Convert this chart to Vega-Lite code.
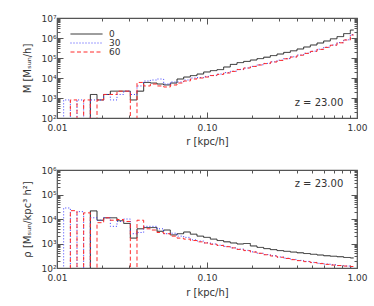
{
  "$schema": "https://vega.github.io/schema/vega-lite/v6.json",
  "padding": {"left": 21, "top": 13, "right": 5, "bottom": 5},
  "background": "white",
  "spacing": 18,
  "config": {
    "font": "DejaVu Sans",
    "view": {"stroke": "#555", "strokeWidth": 1.2},
    "axis": {"grid": false, "domain": false, "labelFont": "DejaVu Sans", "labelFontSize": 9, "labelColor": "#333", "titleFont": "DejaVu Sans", "titleFontSize": 10, "titleFontWeight": "normal", "titleColor": "#333", "tickColor": "#555", "labelFlush": false, "labelOverlap": false}
  },
  "datasets": {
    "d": [
      {"s":"0","r":0.01052,"M":1,"rho":1},{"s":"0","r":0.01166,"M":1,"rho":1},{"s":"0","r":0.01292,"M":1,"rho":1},{"s":"0","r":0.0143,"M":1,"rho":1},{"s":"0","r":0.01585,"M":1,"rho":1},
      {"s":"0","r":0.01756,"M":1500,"rho":21400},{"s":"0","r":0.01945,"M":800,"rho":8910},{"s":"0","r":0.02154,"M":1500,"rho":11200},{"s":"0","r":0.02387,"M":2200,"rho":11200},{"s":"0","r":0.02643,"M":2200,"rho":8510},
      {"s":"0","r":0.02929,"M":2200,"rho":6610},{"s":"0","r":0.03244,"M":800,"rho":1660},{"s":"0","r":0.03594,"M":2200,"rho":3980},{"s":"0","r":0.03981,"M":6000,"rho":4470},{"s":"0","r":0.0441,"M":5600,"rho":4470},
      {"s":"0","r":0.04885,"M":5000,"rho":3160},{"s":"0","r":0.05412,"M":4500,"rho":3550},{"s":"0","r":0.05995,"M":5600,"rho":2240},{"s":"0","r":0.06641,"M":8900,"rho":2510},{"s":"0","r":0.07356,"M":11200,"rho":2950},
      {"s":"0","r":0.08149,"M":13200,"rho":2400},{"s":"0","r":0.09027,"M":15800,"rho":2000},{"s":"0","r":0.1,"M":20000,"rho":1780},{"s":"0","r":0.1108,"M":23400,"rho":1510},{"s":"0","r":0.1227,"M":26300,"rho":1320},
      {"s":"0","r":0.1359,"M":35500,"rho":1170},{"s":"0","r":0.1506,"M":47900,"rho":1050},{"s":"0","r":0.1668,"M":58900,"rho":955},{"s":"0","r":0.1848,"M":67600,"rho":1000},{"s":"0","r":0.2047,"M":79400,"rho":794},
      {"s":"0","r":0.2268,"M":93300,"rho":692},{"s":"0","r":0.2512,"M":110000,"rho":617},{"s":"0","r":0.2783,"M":132000,"rho":562},{"s":"0","r":0.3083,"M":158000,"rho":513},{"s":"0","r":0.3415,"M":191000,"rho":479},
      {"s":"0","r":0.3783,"M":229000,"rho":447},{"s":"0","r":0.419,"M":282000,"rho":417},{"s":"0","r":0.4642,"M":355000,"rho":389},{"s":"0","r":0.5142,"M":447000,"rho":363},{"s":"0","r":0.5696,"M":562000,"rho":339},
      {"s":"0","r":0.631,"M":708000,"rho":316},{"s":"0","r":0.699,"M":912000,"rho":302},{"s":"0","r":0.7743,"M":1175000,"rho":288},{"s":"0","r":0.8577,"M":1660000,"rho":269},{"s":"0","r":0.9502,"M":2500000,"rho":257},

      {"s":"30","r":0.01052,"M":1,"rho":1},{"s":"30","r":0.01166,"M":800,"rho":28200},{"s":"30","r":0.01292,"M":1,"rho":1},{"s":"30","r":0.0143,"M":800,"rho":20000},{"s":"30","r":0.01585,"M":1,"rho":1},
      {"s":"30","r":0.01756,"M":800,"rho":11200},{"s":"30","r":0.01945,"M":800,"rho":8910},{"s":"30","r":0.02154,"M":1500,"rho":11200},{"s":"30","r":0.02387,"M":800,"rho":5010},{"s":"30","r":0.02643,"M":1500,"rho":7940},
      {"s":"30","r":0.02929,"M":2200,"rho":10000},{"s":"30","r":0.03244,"M":1500,"rho":2510},{"s":"30","r":0.03594,"M":4000,"rho":2820},{"s":"30","r":0.03981,"M":7080,"rho":5010},{"s":"30","r":0.0441,"M":7940,"rho":5010},
      {"s":"30","r":0.04885,"M":8910,"rho":3980},{"s":"30","r":0.05412,"M":5010,"rho":2510},{"s":"30","r":0.05995,"M":6310,"rho":2630},{"s":"30","r":0.06641,"M":6310,"rho":2000},{"s":"30","r":0.07356,"M":7940,"rho":1780},
      {"s":"30","r":0.08149,"M":10000,"rho":1410},{"s":"30","r":0.09027,"M":10500,"rho":1260},{"s":"30","r":0.1,"M":12000,"rho":1070},{"s":"30","r":0.1108,"M":13500,"rho":955},{"s":"30","r":0.1227,"M":15800,"rho":851},
      {"s":"30","r":0.1359,"M":18600,"rho":759},{"s":"30","r":0.1506,"M":21900,"rho":661},{"s":"30","r":0.1668,"M":26900,"rho":589},{"s":"30","r":0.1848,"M":31600,"rho":525},{"s":"30","r":0.2047,"M":38000,"rho":457},
      {"s":"30","r":0.2268,"M":45700,"rho":398},{"s":"30","r":0.2512,"M":53700,"rho":355},{"s":"30","r":0.2783,"M":64600,"rho":316},{"s":"30","r":0.3083,"M":77600,"rho":282},{"s":"30","r":0.3415,"M":93300,"rho":251},
      {"s":"30","r":0.3783,"M":115000,"rho":224},{"s":"30","r":0.419,"M":141000,"rho":204},{"s":"30","r":0.4642,"M":174000,"rho":186},{"s":"30","r":0.5142,"M":219000,"rho":170},{"s":"30","r":0.5696,"M":275000,"rho":155},
      {"s":"30","r":0.631,"M":347000,"rho":145},{"s":"30","r":0.699,"M":447000,"rho":135},{"s":"30","r":0.7743,"M":589000,"rho":126},{"s":"30","r":0.8577,"M":813000,"rho":120},{"s":"30","r":0.9502,"M":1480000,"rho":112},

      {"s":"60","r":0.01052,"M":1,"rho":1},{"s":"60","r":0.01166,"M":1,"rho":1},{"s":"60","r":0.01292,"M":800,"rho":21900},{"s":"60","r":0.0143,"M":1,"rho":1},{"s":"60","r":0.01585,"M":800,"rho":17800},
      {"s":"60","r":0.01756,"M":1,"rho":1},{"s":"60","r":0.01945,"M":800,"rho":7080},{"s":"60","r":0.02154,"M":1500,"rho":11200},{"s":"60","r":0.02387,"M":1500,"rho":8910},{"s":"60","r":0.02643,"M":2200,"rho":9550},
      {"s":"60","r":0.02929,"M":2200,"rho":7940},{"s":"60","r":0.03244,"M":1,"rho":1},{"s":"60","r":0.03594,"M":6000,"rho":8910},{"s":"60","r":0.03981,"M":4000,"rho":3980},{"s":"60","r":0.0441,"M":5000,"rho":3550},
      {"s":"60","r":0.04885,"M":4000,"rho":2820},{"s":"60","r":0.05412,"M":3550,"rho":2510},{"s":"60","r":0.05995,"M":4470,"rho":2000},{"s":"60","r":0.06641,"M":5620,"rho":1660},{"s":"60","r":0.07356,"M":7080,"rho":1510},
      {"s":"60","r":0.08149,"M":8910,"rho":1320},{"s":"60","r":0.09027,"M":10000,"rho":1170},{"s":"60","r":0.1,"M":11200,"rho":1050},{"s":"60","r":0.1108,"M":13200,"rho":933},{"s":"60","r":0.1227,"M":15100,"rho":832},
      {"s":"60","r":0.1359,"M":17800,"rho":741},{"s":"60","r":0.1506,"M":21400,"rho":661},{"s":"60","r":0.1668,"M":26300,"rho":575},{"s":"60","r":0.1848,"M":31600,"rho":513},{"s":"60","r":0.2047,"M":38000,"rho":447},
      {"s":"60","r":0.2268,"M":44700,"rho":398},{"s":"60","r":0.2512,"M":52500,"rho":347},{"s":"60","r":0.2783,"M":63100,"rho":309},{"s":"60","r":0.3083,"M":75900,"rho":275},{"s":"60","r":0.3415,"M":91200,"rho":245},
      {"s":"60","r":0.3783,"M":112000,"rho":219},{"s":"60","r":0.419,"M":138000,"rho":200},{"s":"60","r":0.4642,"M":170000,"rho":182},{"s":"60","r":0.5142,"M":214000,"rho":166},{"s":"60","r":0.5696,"M":269000,"rho":151},
      {"s":"60","r":0.631,"M":339000,"rho":141},{"s":"60","r":0.699,"M":437000,"rho":132},{"s":"60","r":0.7743,"M":575000,"rho":126},{"s":"60","r":0.8577,"M":794000,"rho":120},{"s":"60","r":0.9502,"M":1410000,"rho":115}
    ]
  },
  "resolve": {"scale": {"x": "independent", "y": "independent"}, "legend": {"color": "independent", "strokeDash": "independent"}},
  "vconcat": [
    {
      "width": 300,
      "height": 100,
      "layer": [
        {
          "data": {"name": "d"},
          "mark": {"type": "line", "interpolate": "step", "clip": true, "strokeWidth": 1},
          "encoding": {
            "x": {"field": "r", "type": "quantitative",
              "scale": {"type": "log", "domain": [0.01, 1], "nice": false},
              "axis": {"orient": "bottom", "title": "r [kpc/h]", "titleY": 23, "titleBaseline": "middle", "labelPadding": 11,
                "values": [0.01,0.02,0.03,0.04,0.05,0.06,0.07,0.08,0.09,0.1,0.2,0.3,0.4,0.5,0.6,0.7,0.8,0.9,1],
                "labelExpr": "abs(log(datum.value)/LN10 - round(log(datum.value)/LN10)) < 0.001 ? format(datum.value, '.2f') : ''",
                "tickSize": {"condition": {"test": "abs(log(datum.value)/LN10 - round(log(datum.value)/LN10)) < 0.001", "value": -6}, "value": -3}}},
            "y": {"field": "M", "type": "quantitative",
              "scale": {"type": "log", "domain": [100, 10000000], "nice": false},
              "axis": {"orient": "left", "title": "M [Mₛᵤₙ/h]", "titleX": -30, "titleY": 50, "titleBaseline": "middle", "titleAlign": "center", "labelPadding": 7,
                "values": [100,200,300,400,500,600,700,800,900,1000,2000,3000,4000,5000,6000,7000,8000,9000,10000,20000,30000,40000,50000,60000,70000,80000,90000,100000,200000,300000,400000,500000,600000,700000,800000,900000,1000000,2000000,3000000,4000000,5000000,6000000,7000000,8000000,9000000,10000000],
                "labelExpr": "abs(log(datum.value)/LN10 - round(log(datum.value)/LN10)) < 0.001 ? '10' + ['⁰','¹','²','³','⁴','⁵','⁶','⁷','⁸','⁹'][round(log(datum.value)/LN10)] : ''",
                "tickSize": {"condition": {"test": "abs(log(datum.value)/LN10 - round(log(datum.value)/LN10)) < 0.001", "value": -6}, "value": -3}}},
            "color": {"field": "s", "type": "nominal",
              "scale": {"domain": ["0", "30", "60"], "range": ["#222222", "#3c3cff", "#ff2a2a"]},
              "legend": {"orient": "none", "legendX": 13, "legendY": 12, "title": null, "symbolType": "stroke", "symbolSize": 1024, "symbolStrokeWidth": 1, "labelOffset": 6, "labelFontSize": 9, "labelColor": "#333", "rowPadding": 0, "clipHeight": 8, "labelFont": "DejaVu Sans"}},
            "strokeDash": {"field": "s", "type": "nominal",
              "scale": {"domain": ["0", "30", "60"], "range": [[1, 0], [1, 2], [4, 2.5]]},
              "legend": {"orient": "none", "legendX": 13, "legendY": 12, "title": null, "symbolType": "stroke", "symbolSize": 1024, "symbolStrokeWidth": 1, "labelOffset": 6, "labelFontSize": 9, "labelColor": "#333", "rowPadding": 0, "clipHeight": 8, "labelFont": "DejaVu Sans"}}
          }
        },
        {
          "data": {"values": [{}]},
          "mark": {"type": "text", "text": "z = 23.00", "align": "right", "baseline": "middle", "fontSize": 10, "color": "#333"},
          "encoding": {
            "x": {"datum": 0.81, "type": "quantitative",
              "scale": {"type": "log", "domain": [0.01, 1], "nice": false},
              "axis": {"orient": "top", "title": null, "labels": false,
                "values": [0.01,0.02,0.03,0.04,0.05,0.06,0.07,0.08,0.09,0.1,0.2,0.3,0.4,0.5,0.6,0.7,0.8,0.9,1],
                "tickSize": {"condition": {"test": "abs(log(datum.value)/LN10 - round(log(datum.value)/LN10)) < 0.001", "value": -6}, "value": -3}}},
            "y": {"datum": 560, "type": "quantitative",
              "scale": {"type": "log", "domain": [100, 10000000], "nice": false},
              "axis": {"orient": "right", "title": null, "labels": false,
                "values": [100,200,300,400,500,600,700,800,900,1000,2000,3000,4000,5000,6000,7000,8000,9000,10000,20000,30000,40000,50000,60000,70000,80000,90000,100000,200000,300000,400000,500000,600000,700000,800000,900000,1000000,2000000,3000000,4000000,5000000,6000000,7000000,8000000,9000000,10000000],
                "tickSize": {"condition": {"test": "abs(log(datum.value)/LN10 - round(log(datum.value)/LN10)) < 0.001", "value": -6}, "value": -3}}}
          }
        }
      ],
      "resolve": {"axis": {"x": "independent", "y": "independent"}}
    },
    {
      "width": 300,
      "height": 98,
      "layer": [
        {
          "data": {"name": "d"},
          "mark": {"type": "line", "interpolate": "step", "clip": true, "strokeWidth": 1},
          "encoding": {
            "x": {"field": "r", "type": "quantitative",
              "scale": {"type": "log", "domain": [0.01, 1], "nice": false},
              "axis": {"orient": "bottom", "title": "r [kpc/h]", "titleY": 24, "titleBaseline": "middle", "labelPadding": 11,
                "values": [0.01,0.02,0.03,0.04,0.05,0.06,0.07,0.08,0.09,0.1,0.2,0.3,0.4,0.5,0.6,0.7,0.8,0.9,1],
                "labelExpr": "abs(log(datum.value)/LN10 - round(log(datum.value)/LN10)) < 0.001 ? format(datum.value, '.2f') : ''",
                "tickSize": {"condition": {"test": "abs(log(datum.value)/LN10 - round(log(datum.value)/LN10)) < 0.001", "value": -6}, "value": -3}}},
            "y": {"field": "rho", "type": "quantitative",
              "scale": {"type": "log", "domain": [100, 1000000], "nice": false},
              "axis": {"orient": "left", "title": "ρ [Mₛᵤₙ/kpc³ h²]", "titleX": -30, "titleY": 49, "titleBaseline": "middle", "titleAlign": "center", "labelPadding": 7,
                "values": [100,200,300,400,500,600,700,800,900,1000,2000,3000,4000,5000,6000,7000,8000,9000,10000,20000,30000,40000,50000,60000,70000,80000,90000,100000,200000,300000,400000,500000,600000,700000,800000,900000,1000000],
                "labelExpr": "abs(log(datum.value)/LN10 - round(log(datum.value)/LN10)) < 0.001 ? '10' + ['⁰','¹','²','³','⁴','⁵','⁶','⁷','⁸','⁹'][round(log(datum.value)/LN10)] : ''",
                "tickSize": {"condition": {"test": "abs(log(datum.value)/LN10 - round(log(datum.value)/LN10)) < 0.001", "value": -6}, "value": -3}}},
            "color": {"field": "s", "type": "nominal",
              "scale": {"domain": ["0", "30", "60"], "range": ["#222222", "#3c3cff", "#ff2a2a"]}, "legend": null},
            "strokeDash": {"field": "s", "type": "nominal",
              "scale": {"domain": ["0", "30", "60"], "range": [[1, 0], [1, 2], [4, 2.5]]}, "legend": null}
          }
        },
        {
          "data": {"values": [{}]},
          "mark": {"type": "text", "text": "z = 23.00", "align": "right", "baseline": "middle", "fontSize": 10, "color": "#333"},
          "encoding": {
            "x": {"datum": 0.81, "type": "quantitative",
              "scale": {"type": "log", "domain": [0.01, 1], "nice": false},
              "axis": {"orient": "top", "title": null, "labels": false,
                "values": [0.01,0.02,0.03,0.04,0.05,0.06,0.07,0.08,0.09,0.1,0.2,0.3,0.4,0.5,0.6,0.7,0.8,0.9,1],
                "tickSize": {"condition": {"test": "abs(log(datum.value)/LN10 - round(log(datum.value)/LN10)) < 0.001", "value": -6}, "value": -3}}},
            "y": {"datum": 270000, "type": "quantitative",
              "scale": {"type": "log", "domain": [100, 1000000], "nice": false},
              "axis": {"orient": "right", "title": null, "labels": false,
                "values": [100,200,300,400,500,600,700,800,900,1000,2000,3000,4000,5000,6000,7000,8000,9000,10000,20000,30000,40000,50000,60000,70000,80000,90000,100000,200000,300000,400000,500000,600000,700000,800000,900000,1000000],
                "tickSize": {"condition": {"test": "abs(log(datum.value)/LN10 - round(log(datum.value)/LN10)) < 0.001", "value": -6}, "value": -3}}}
          }
        }
      ],
      "resolve": {"axis": {"x": "independent", "y": "independent"}}
    }
  ]
}
